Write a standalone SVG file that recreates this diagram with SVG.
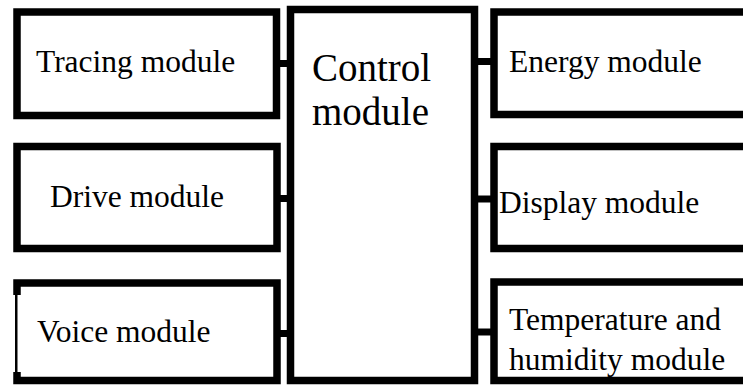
<svg xmlns="http://www.w3.org/2000/svg" width="743" height="385" viewBox="0 0 743 385">
<style>
.box{fill:#fff;stroke:#000;stroke-width:7.5}
.t{font-family:"Liberation Serif","Times New Roman",serif;font-size:31.5px;fill:#000}
.c{font-family:"Liberation Serif","Times New Roman",serif;font-size:39px;fill:#000}
.conn line{stroke:#000;stroke-width:7}
</style>
<rect width="743" height="385" fill="#fff"/>
<g class="conn">
<line x1="276" y1="63.5" x2="291" y2="63.5"/>
<line x1="276" y1="198.5" x2="291" y2="198.5"/>
<line x1="276" y1="333.5" x2="291" y2="333.5"/>
<line x1="474" y1="61.5" x2="495" y2="61.5"/>
<line x1="474" y1="199" x2="495" y2="199"/>
<line x1="474" y1="332" x2="495" y2="332"/>
</g>
<g id="control">
<rect class="box" x="290.5" y="9.5" width="184" height="371"/>
<text class="c" x="312" y="81">Control</text>
<text class="c" x="312" y="125">module</text>
</g>
<g id="tracing">
<rect class="box" x="17" y="12" width="259.5" height="103.5"/>
<text class="t" x="36" y="72">Tracing module</text>
</g>
<g id="drive">
<rect class="box" x="17" y="146.5" width="260" height="102"/>
<text class="t" x="50" y="207">Drive module</text>
</g>
<g id="voice">
<rect class="box" x="17" y="283" width="260" height="97.5"/>
<rect x="12" y="295" width="3" height="77" fill="#fff"/>
<rect x="17.5" y="295" width="4" height="77" fill="#fff"/>
<text class="t" x="37" y="342">Voice module</text>
</g>
<g id="energy">
<rect class="box" x="494" y="12" width="270" height="102.5"/>
<text class="t" x="509" y="72">Energy module</text>
</g>
<g id="display">
<rect class="box" x="494" y="146.5" width="270" height="102"/>
<text class="t" x="499" y="213">Display module</text>
</g>
<g id="temperature">
<rect class="box" x="494" y="282" width="270" height="98.5"/>
<text class="t" x="509" y="330">Temperature and</text>
<text class="t" x="509" y="370">humidity module</text>
</g>
</svg>
